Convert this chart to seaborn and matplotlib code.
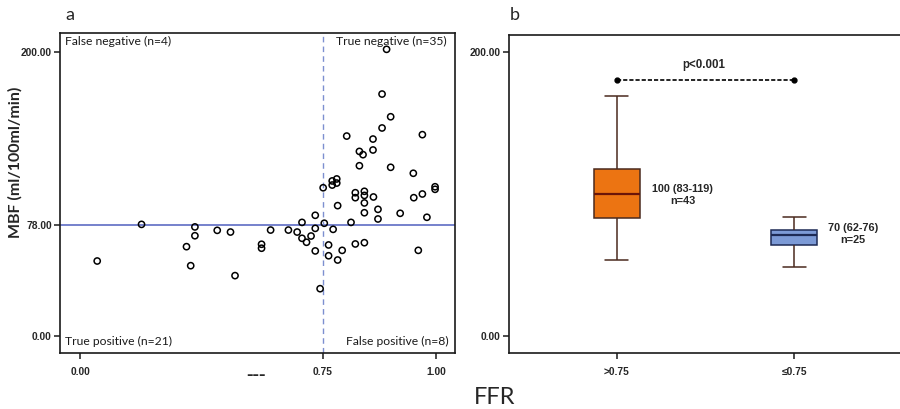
import numpy as np
import pandas as pd
import matplotlib
matplotlib.use("Agg")
import matplotlib.pyplot as plt
import seaborn as sns

# ---------------- data ----------------
ffr = [0.053, 0.19, 0.355, 0.355, 0.329, 0.342, 0.424, 0.465, 0.479, 0.561, 0.561,
       0.589, 0.644, 0.671, 0.686, 0.686, 0.70, 0.714, 0.727, 0.727, 0.727, 0.742,
       0.7535, 0.751, 0.771, 0.771, 0.781, 0.781, 0.783, 0.8125, 0.822, 0.822, 0.842,
       0.842, 0.842, 0.842, 0.862, 0.872, 0.872, 0.921, 0.951, 0.97, 0.98, 0.998, 0.998,
       0.891, 0.881, 0.90, 0.881, 0.803, 0.861, 0.97, 0.831, 0.839, 0.861, 0.831, 0.90,
       0.95, 0.763, 0.763, 0.773, 0.783, 0.793, 0.822, 0.842, 0.961]
mbf = [52.8, 78.6, 76.8, 70.6, 62.9, 49.5, 74.4, 73.2, 42.5, 64.6, 61.8,
       74.6, 74.6, 73.2, 80.0, 68.8, 66.0, 70.4, 85.0, 75.8, 59.9, 33.3,
       79.4, 104.4, 109.2, 106.3, 110.6, 107.7, 91.8, 80.0, 97.4, 100.9, 86.8,
       93.7, 99.0, 101.9, 97.9, 89.2, 82.4, 86.4, 97.4, 100.0, 83.6, 105.1, 103.3,
       201.9, 170.4, 154.4, 146.5, 140.8, 138.7, 141.8, 130.0, 127.7, 131.0, 119.9, 118.8,
       114.6, 64.1, 56.5, 75.1, 53.5, 60.3, 64.8, 65.7, 60.3]
cutoff_ffr = 0.75
cutoff_mbf = 78.0
quadrant_labels = ["False negative (n=4)", "True negative (n=35)",
                   "True positive (n=21)", "False positive (n=8)"]

groups = [">0.75", "\u22640.75"]
box_gt = [53.5, 83.1, 100.2, 117.6, 169.0]   # min, Q1, median, Q3, max as drawn
box_le = [48.8, 63.9, 71.3, 74.6, 84.0]
box_notes = ["100 (83-119)\nn=43", "70 (62-76)\nn=25"]
p_text = "p<0.001"
p_level = 180.0

left_xticks = [0.0, 0.75, 1.0]
left_yticks = [0.0, 78.0, 200.0]
right_yticks = [0.0, 200.0]

# ---------------- style ----------------
sns.set_style("white")
plt.rcParams["font.family"] = ["Liberation Sans", "DejaVu Sans"]

fig = plt.figure(figsize=(9.0, 4.09), dpi=100)
axA = fig.add_axes([60/900, 1-353/409, 395/900, 320/409])
axB = fig.add_axes([509/900, 1-353/409, 391/900, 318/409])

# piecewise x scale as in the original
def fwd(x):
    x = np.asarray(x, float)
    return np.where(x <= 0.75, x * (242.7/0.75), 242.7 + (x-0.75) * (113.3/0.25))

def inv(u):
    u = np.asarray(u, float)
    return np.where(u <= 242.7, u * 0.75/242.7, 0.75 + (u-242.7) * 0.25/113.3)

axA.set_xscale("function", functions=(fwd, inv))

df = pd.DataFrame({"FFR": ffr, "MBF": mbf})
axA.axhline(cutoff_mbf, color="#4f5fbf", lw=1.1, zorder=1)
axA.axvline(cutoff_ffr, color="#7d8fd0", lw=1.0, ls=(0, (4, 3)), zorder=1)
sns.scatterplot(data=df, x="FFR", y="MBF", ax=axA, marker="o", s=20,
                facecolor="none", edgecolor="black", linewidth=1.1, zorder=3)
axA.set_xlim(-0.062, 1.042)
axA.set_ylim(-12, 213.4)
axA.set_xticks(left_xticks)
axA.set_xticklabels([f"{v:.2f}" for v in left_xticks])
axA.set_yticks(left_yticks)
axA.set_yticklabels([f"{v:.2f}" for v in left_yticks])
axA.set_xlabel("")
axA.set_ylabel("MBF (ml/100ml/min)", fontsize=11.5, fontweight="bold",
               family=["Lato", "DejaVu Sans"])
axA.yaxis.set_label_coords(-0.094, 0.597)

qfont = dict(fontsize=8.7, family=["Lato", "DejaVu Sans"], color="#1a1a1a")
axA.text(0.013, 0.972, quadrant_labels[0], transform=axA.transAxes, ha="left", va="center", **qfont)
axA.text(0.98, 0.972, quadrant_labels[1], transform=axA.transAxes, ha="right", va="center", **qfont)
axA.text(0.013, 0.035, quadrant_labels[2], transform=axA.transAxes, ha="left", va="center", **qfont)
axA.text(0.985, 0.035, quadrant_labels[3], transform=axA.transAxes, ha="right", va="center", **qfont)

# ---------------- panel b ----------------
bdf = pd.DataFrame({"grp": [groups[0]]*len(box_gt) + [groups[1]]*len(box_le),
                    "val": box_gt + box_le})
edge = "#4a2a1e"
sns.boxplot(data=bdf[bdf.grp == groups[0]], x="grp", y="val", order=groups, ax=axB,
            width=0.26, color="#ec7412", saturation=1, linewidth=1.1, linecolor=edge,
            medianprops=dict(color="#6a1508", linewidth=1.6))
sns.boxplot(data=bdf[bdf.grp == groups[1]], x="grp", y="val", order=groups, ax=axB,
            width=0.26, color="#7c9ad6", saturation=1, linewidth=1.1, linecolor=edge,
            boxprops=dict(edgecolor="#1d2a55"),
            medianprops=dict(color="#1d2a55", linewidth=1.6))
axB.plot([0, 1], [p_level, p_level], color="black", lw=1.2, ls=(0, (2.5, 1.2)),
         marker="o", ms=3.5)
axB.text(0.49, 190.8, p_text, ha="center", va="center", fontsize=8.3, fontweight="bold")
axB.text(0.372, 99.5, box_notes[0], ha="center", va="center", fontsize=7.8, fontweight="bold",
         linespacing=1.25)
axB.text(1.331, 72.0, box_notes[1], ha="center", va="center", fontsize=7.8, fontweight="bold",
         linespacing=1.25)
axB.set_xlim(-0.607, 1.596)
axB.set_ylim(-12, 212)
axB.set_yticks(right_yticks)
axB.set_yticklabels([f"{v:.2f}" for v in right_yticks])
axB.set_xlabel("")
axB.set_ylabel("")

for ax in (axA, axB):
    for s in ax.spines.values():
        s.set_color("#1a1a1a")
        s.set_linewidth(1.2)
    ax.tick_params(axis="both", which="major", direction="out", length=4, width=1.1,
                   color="#1a1a1a", labelsize=7.4, pad=2, left=True, bottom=True)
    for lab in ax.get_xticklabels() + ax.get_yticklabels():
        lab.set_fontweight("bold")
axB.spines["right"].set_visible(False)
axB.tick_params(axis="x", pad=6)
axA.tick_params(axis="x", pad=6)

fig.text(65/900, 1-15/409, "a", fontsize=13, ha="left", va="center", family=["Lato", "DejaVu Sans"])
fig.text(510/900, 1-15/409, "b", fontsize=13, ha="left", va="center", family=["Lato", "DejaVu Sans"])
fig.text(256/900, 1-376/409, "---", fontsize=14, fontweight="bold", ha="center", va="center")
fig.text(495/900, 1-397/409, "FFR", fontsize=17, ha="center", va="center", family=["Lato", "DejaVu Sans"])

fig.savefig("out.png", dpi=100, facecolor="white")
